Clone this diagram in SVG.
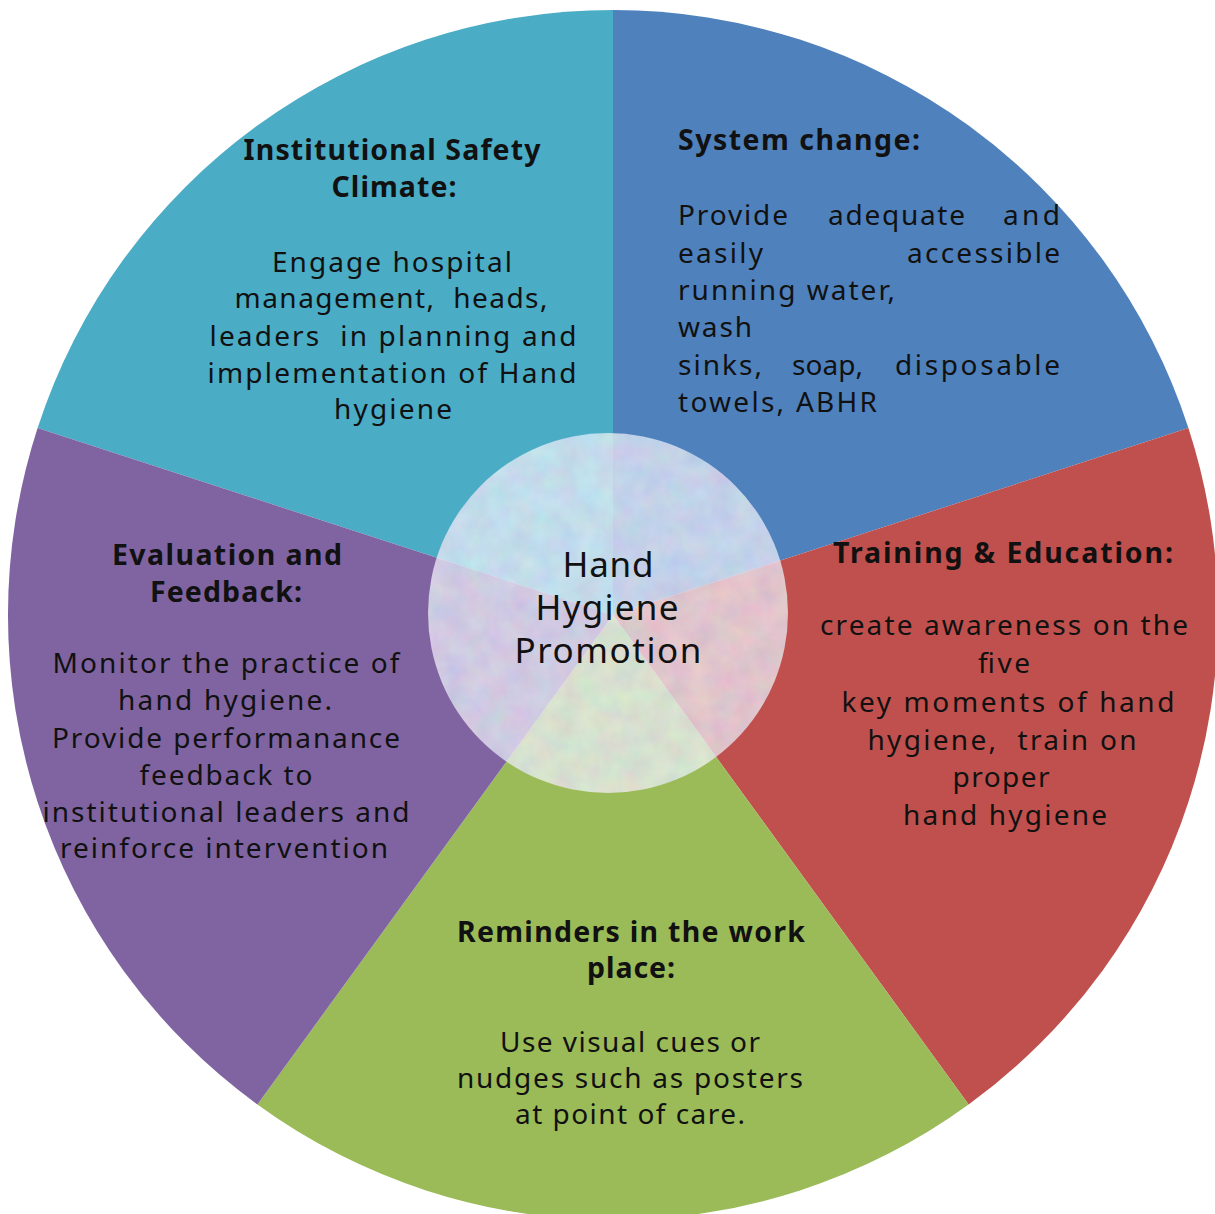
<svg xmlns="http://www.w3.org/2000/svg" width="1215" height="1214" viewBox="0 0 1215 1214">
<style>
text{font-family:"Noto Sans","DejaVu Sans",sans-serif;fill:#111;font-size:28px}
.h{font-weight:bold;font-size:28.5px}
.c{text-anchor:middle}
.ctr{font-size:35px;text-anchor:middle}
</style>
<defs>
<filter id="tex" x="0" y="0" width="100%" height="100%">
<feTurbulence type="fractalNoise" baseFrequency="0.045" numOctaves="3" seed="7" result="n"/>
<feColorMatrix in="n" type="matrix" values="0.35 0 0 0 0.66  0 0.3 0 0 0.70  0 0 0.2 0 0.84  0 0 0 0 0.74" result="c"/>
<feComposite in="c" in2="SourceGraphic" operator="in"/>
</filter>
</defs>
<rect width="1215" height="1214" fill="#fff"/>
<g id="slices">
<g id="safety"><path d="M613 615 L37.6 428 A605 605 0 0 1 613 10 Z" fill="#4BACC6"/></g>
<g id="system"><path d="M613 615 L613 10 A605 605 0 0 1 1188.4 428 Z" fill="#4F81BD"/></g>
<g id="training"><path d="M613 615 L1188.4 428 A605 605 0 0 1 968.6 1104.5 Z" fill="#C0504D"/></g>
<g id="reminders"><path d="M613 615 L968.6 1104.5 A605 605 0 0 1 257.4 1104.5 Z" fill="#9BBB59"/></g>
<g id="evaluation"><path d="M613 615 L257.4 1104.5 A605 605 0 0 1 37.6 428 Z" fill="#8064A2"/></g>
</g>
<g id="center">
<circle cx="608" cy="613" r="180" fill="#fff" filter="url(#tex)"/>
<text class="ctr" x="608" y="577" textLength="91">Hand</text>
<text class="ctr" x="607" y="620" textLength="143">Hygiene</text>
<text class="ctr" x="608" y="663" textLength="187">Promotion</text>
</g>
<g id="safety-text">
<text class="h c" x="392" y="160" textLength="297">Institutional Safety</text>
<text class="h c" x="394" y="197" textLength="125">Climate:</text>
<text class="c" x="392" y="272" textLength="240">Engage hospital</text>
<text class="c" x="391" y="308" textLength="313" xml:space="preserve">management,  heads,</text>
<text class="c" x="393" y="346" textLength="367" xml:space="preserve">leaders  in planning and</text>
<text class="c" x="392" y="383" textLength="369">implementation of Hand</text>
<text class="c" x="393" y="419" textLength="118">hygiene</text>
</g>
<g id="system-text">
<text class="h" x="678" y="150" textLength="242">System change:</text>
<text x="678" y="225" textLength="110">Provide</text>
<text x="828" y="225" textLength="137">adequate</text>
<text x="1003" y="225" textLength="57">and</text>
<text x="678" y="263" textLength="85">easily</text>
<text x="907" y="263" textLength="153">accessible</text>
<text x="678" y="300" textLength="217">running water,</text>
<text x="678" y="337" textLength="74">wash</text>
<text x="678" y="375" textLength="84">sinks,</text>
<text x="792" y="375" textLength="71">soap,</text>
<text x="895" y="375" textLength="165">disposable</text>
<text x="678" y="412" textLength="199">towels, ABHR</text>
</g>
<g id="training-text">
<text class="h c" x="1003" y="563" textLength="340">Training &amp; Education:</text>
<text class="c" x="1004" y="635" textLength="368">create awareness on the</text>
<text class="c" x="1004" y="673" textLength="52">five</text>
<text class="c" x="1008" y="712" textLength="333">key moments of hand</text>
<text class="c" x="1002" y="750" textLength="269" xml:space="preserve">hygiene,  train on</text>
<text class="c" x="1001" y="787" textLength="97">proper</text>
<text class="c" x="1005" y="825" textLength="204">hand hygiene</text>
</g>
<g id="evaluation-text">
<text class="h c" x="227" y="565" textLength="230">Evaluation and</text>
<text class="h c" x="226" y="602" textLength="152">Feedback:</text>
<text class="c" x="226" y="673" textLength="347">Monitor the practice of</text>
<text class="c" x="225" y="710" textLength="214">hand hygiene.</text>
<text class="c" x="226" y="748" textLength="348">Provide performanance</text>
<text class="c" x="226" y="785" textLength="173">feedback to</text>
<text class="c" x="226" y="822" textLength="367">institutional leaders and</text>
<text class="c" x="224" y="858" textLength="328">reinforce intervention</text>
</g>
<g id="reminders-text">
<text class="h c" x="631" y="942" textLength="348">Reminders in the work</text>
<text class="h c" x="631" y="978" textLength="88">place:</text>
<text class="c" x="630" y="1052" textLength="260">Use visual cues or</text>
<text class="c" x="630" y="1088" textLength="346">nudges such as posters</text>
<text class="c" x="630" y="1124" textLength="230">at point of care.</text>
</g>
</svg>
